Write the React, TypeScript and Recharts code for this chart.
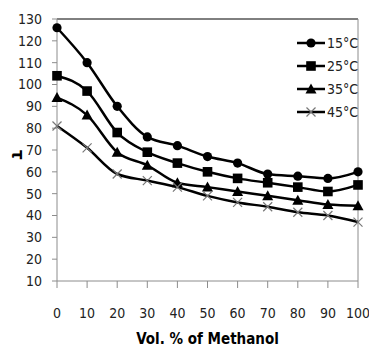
import { LineChart, Line, XAxis, YAxis, ReferenceLine, Label } from "recharts"

// x values: volume % of methanol
const methanol = [0, 10, 20, 30, 40, 50, 60, 70, 80, 90, 100]

// tau values per temperature
const t15 = [126, 110, 90, 76, 72, 67, 64, 59, 58, 57, 60]
const t25 = [104, 97, 78, 69, 64, 60, 57, 55, 53, 51, 54]
const t35 = [94, 86, 69, 63, 55, 53, 51, 49, 47, 45, 44.5]
const t45 = [81, 71, 59, 56, 53, 49, 46, 44, 41.5, 40, 37]

const xTicks = [0, 10, 20, 30, 40, 50, 60, 70, 80, 90, 100]
const yTicks = [10, 20, 30, 40, 50, 60, 70, 80, 90, 100, 110, 120, 130]

const seriesNames = ["15°C", "25°C", "35°C", "45°C"]
const seriesKeys = ["t15", "t25", "t35", "t45"]
const markers = ["circle", "square", "triangle", "cross"]

const data = methanol.map((m, i) => ({
  m,
  t15: t15[i],
  t25: t25[i],
  t35: t35[i],
  t45: t45[i]
}))

const FONT = "'Liberation Sans Narrow', 'DejaVu Sans Condensed', Roboto, sans-serif"
const AXIS_GRAY = "#8c8c8c"

// draws one marker shape at (x, y)
const drawMarker = (kind: string, x: number, y: number, key?: string) => {
  if (kind === "circle") return <circle key={key} cx={x} cy={y} r={4.6} fill="#000" />
  if (kind === "square") return <rect key={key} x={x - 4.8} y={y - 4.8} width={9.6} height={9.6} fill="#000" />
  if (kind === "triangle")
    return <path key={key} d={`M${x},${y - 5.5}L${x + 5.5},${y + 4.5}L${x - 5.5},${y + 4.5}Z`} fill="#000" />
  return (
    <path
      key={key}
      d={`M${x - 4.5},${y - 4.5}L${x + 4.5},${y + 4.5}M${x - 4.5},${y + 4.5}L${x + 4.5},${y - 4.5}`}
      stroke="#777"
      strokeWidth={1.2}
      fill="none"
    />
  )
}

const makeDot = (kind: string) => (props: any) => {
  const { cx, cy, index } = props
  return <g key={`${kind}-${index}`}>{drawMarker(kind, cx, cy)}</g>
}

// legend drawn as an overlay so it doesn't shrink the plot area
const CustomLegend = () => (
  <svg width={70} height={90} style={{ position: "absolute", left: 296, top: 33 }}>
    {seriesNames.map((name, i) => {
      const y = 10 + i * 23
      return (
        <g key={name}>
          <line x1={1} y1={y} x2={29} y2={y} stroke="#000" strokeWidth={2.5} />
          {drawMarker(markers[i], 15, y)}
          <text x={31} y={y} dominantBaseline="central" fontFamily={FONT} fontSize={14} fill="#222">
            {name}
          </text>
        </g>
      )
    })}
  </svg>
)

export default function App() {
  return (
    <div style={{ position: "absolute", left: 0, top: 0, width: 369, height: 348, background: "#fff" }}>
      <LineChart width={369} height={348} data={data} margin={{ top: 19, right: 11, left: 0, bottom: 0 }}>
        <XAxis
          dataKey="m"
          type="number"
          domain={[0, 100]}
          ticks={xTicks}
          interval={0}
          height={67}
          tickSize={7}
          tickMargin={20}
          stroke={AXIS_GRAY}
          tick={{ fill: "#222", fontFamily: FONT, fontSize: 14 }}
        >
          <Label
            value="Vol. % of Methanol"
            position="insideBottom"
            offset={4}
            style={{ fontFamily: FONT, fontSize: 15, fontWeight: "bold", fill: "#000" }}
          />
        </XAxis>
        <YAxis
          type="number"
          domain={[10, 130]}
          ticks={yTicks}
          interval={0}
          width={57}
          tickSize={5}
          tickMargin={10}
          stroke={AXIS_GRAY}
          tick={{ fill: "#222", fontFamily: FONT, fontSize: 14 }}
        >
          <Label
            value="τ"
            angle={90}
            position="insideLeft"
            offset={18}
            style={{ fontFamily: FONT, fontSize: 17, fontWeight: "bold", fill: "#000" }}
          />
        </YAxis>
        <ReferenceLine y={130} stroke="#000" strokeWidth={1} />
        <ReferenceLine x={100} stroke={AXIS_GRAY} strokeWidth={1} />
        {seriesKeys.map((k, i) => (
          <Line
            key={k}
            dataKey={k}
            name={seriesNames[i]}
            type="monotone"
            stroke="#000"
            strokeWidth={2.5}
            dot={makeDot(markers[i])}
            activeDot={false}
            isAnimationActive={false}
          />
        ))}
      </LineChart>
      <CustomLegend />
    </div>
  )
}
